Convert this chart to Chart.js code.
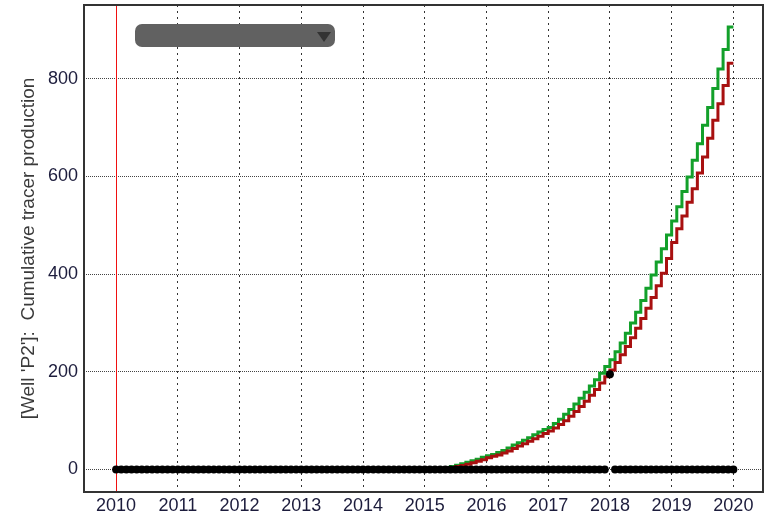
<!DOCTYPE html>
<html>
<head>
<meta charset="utf-8">
<script src="https://cdn.jsdelivr.net/npm/chart.js@4.4.0/dist/chart.umd.min.js"></script>
<style>
  body { margin: 0; background: #fff; }
  #wrap { position: relative; width: 769px; height: 517px; }
  #picker { position: absolute; left: 135px; top: 24px; width: 200px; height: 23px; background: #616161; border-radius: 7px; }
  #picker::after { content: ""; position: absolute; right: 4px; top: 8px; border-left: 7px solid transparent; border-right: 7px solid transparent; border-top: 10px solid #333; }
</style>
</head>
<body>
<div id="wrap">
  <canvas id="tracerChart"></canvas>
  <div id="picker"></div>
</div>
<script>
// monthly cumulative production, Jan 2015 .. Dec 2019
const curveStart = 2015;
const simulatedA = [
  0, 0, 1, 2, 4, 6, 9, 12, 15, 18, 21, 25,
  28, 31, 35, 39, 44, 50, 55, 60, 65, 71, 77, 82,
  86, 94, 103, 113, 123, 134, 146, 158, 171, 184, 197, 211,
  225, 241, 259, 279, 300, 322, 346, 371, 398, 425, 452, 480,
  509, 538, 569, 599, 633, 667, 705, 741, 780, 820, 860, 906
];
const simulatedB = [
  0, 0, 0, 1, 2, 4, 6, 8, 11, 14, 17, 20,
  24, 27, 30, 34, 38, 43, 48, 53, 58, 63, 68, 74,
  79, 85, 92, 100, 109, 119, 129, 140, 152, 164, 177, 190,
  204, 219, 235, 252, 270, 289, 309, 330, 352, 376, 402, 432,
  465, 493, 519, 547, 575, 607, 640, 678, 715, 749, 786, 832
];

// observed values, monthly from Jan 2010 to Jan 2020
const obsStart = 2010;
const observed = [
  0, 0, 0, 0, 0, 0, 0, 0, 0, 0, 0, 0,
  0, 0, 0, 0, 0, 0, 0, 0, 0, 0, 0, 0,
  0, 0, 0, 0, 0, 0, 0, 0, 0, 0, 0, 0,
  0, 0, 0, 0, 0, 0, 0, 0, 0, 0, 0, 0,
  0, 0, 0, 0, 0, 0, 0, 0, 0, 0, 0, 0,
  0, 0, 0, 0, 0, 0, 0, 0, 0, 0, 0, 0,
  0, 0, 0, 0, 0, 0, 0, 0, 0, 0, 0, 0,
  0, 0, 0, 0, 0, 0, 0, 0, 0, 0, 0, 0,
  195, 0, 0, 0, 0, 0, 0, 0, 0, 0, 0, 0,
  0, 0, 0, 0, 0, 0, 0, 0, 0, 0, 0, 0,
  0
];

const yearTicks = [2010, 2011, 2012, 2013, 2014, 2015, 2016, 2017, 2018, 2019, 2020];
const valueTicks = [0, 200, 400, 600, 800];
const markerYear = 2010;
const yTitle = "[Well 'P2']:  Cumulative tracer production";

const monthEnd = (arr, start) => arr.map((v, i) => ({ x: start + (i + 1) / 12, y: v }));
const monthStart = (arr, start) => arr.map((v, i) => ({ x: start + i / 12, y: v }));

const framePlugin = {
  id: "frame",
  beforeDatasetsDraw(chart) {
    const { ctx, chartArea, scales } = chart;
    const x = Math.round(scales.x.getPixelForValue(markerYear)) + 0.5;
    ctx.save();
    ctx.strokeStyle = "#f01010";
    ctx.lineWidth = 1;
    ctx.beginPath();
    ctx.moveTo(x, chartArea.top);
    ctx.lineTo(x, chartArea.bottom);
    ctx.stroke();
    ctx.restore();
  },
  afterDraw(chart) {
    const { ctx, chartArea } = chart;
    ctx.save();
    ctx.strokeStyle = "#333";
    ctx.lineWidth = 2;
    ctx.strokeRect(chartArea.left, chartArea.top, chartArea.right - chartArea.left, chartArea.bottom - chartArea.top);
    ctx.restore();
  }
};

const tickFont = { family: "'Liberation Sans', Arial, sans-serif", size: 18 };

new Chart(document.getElementById("tracerChart"), {
  type: "line",
  data: {
    datasets: [{
      data: monthStart(observed, obsStart),
      showLine: false,
      pointRadius: 4,
      pointBackgroundColor: "#000",
      pointBorderWidth: 0
    }, {
      data: monthEnd(simulatedB, curveStart),
      borderColor: "#a81010",
      borderWidth: 3,
      pointRadius: 0,
      stepped: "after",
      fill: false
    }, {
      data: monthEnd(simulatedA, curveStart),
      borderColor: "#12a02a",
      borderWidth: 3,
      pointRadius: 0,
      stepped: "after",
      fill: false
    }]
  },
  options: {
    responsive: true,
    maintainAspectRatio: false,
    animation: false,
    layout: {
      padding: { top: 5, right: 6, left: 0, bottom: 0 }
    },
    scales: {
      x: {
        type: "linear",
        min: 2009.48,
        max: 2020.48,
        afterBuildTicks: s => { s.ticks = yearTicks.map(v => ({ value: v })); },
        afterFit: s => { s.height = 25; s.paddingLeft = 0; s.paddingRight = 0; },
        ticks: {
          color: "#1c1c3c",
          font: tickFont,
          padding: 3,
          maxRotation: 0,
          autoSkip: false,
          callback: v => String(v)
        },
        grid: {
          color: "#333",
          drawTicks: false
        },
        border: {
          display: false,
          dash: [2, 4]
        }
      },
      y: {
        min: -46,
        max: 951,
        afterBuildTicks: s => { s.ticks = valueTicks.map(v => ({ value: v })); },
        afterFit: s => { s.width = 84; s.paddingTop = 0; s.paddingBottom = 0; },
        ticks: {
          color: "#1c1c3c",
          font: tickFont,
          padding: 6,
          autoSkip: false
        },
        grid: {
          color: "#444",
          drawTicks: false
        },
        border: {
          display: false,
          dash: [1, 1]
        },
        title: {
          display: true,
          text: yTitle,
          color: "#3a3a3a",
          font: { family: "'Liberation Sans', Arial, sans-serif", size: 19 },
          padding: { top: 17, bottom: 0 }
        }
      }
    },
    plugins: {
      legend: { display: false },
      tooltip: { enabled: false }
    }
  },
  plugins: [framePlugin]
});
</script>
</body>
</html>
